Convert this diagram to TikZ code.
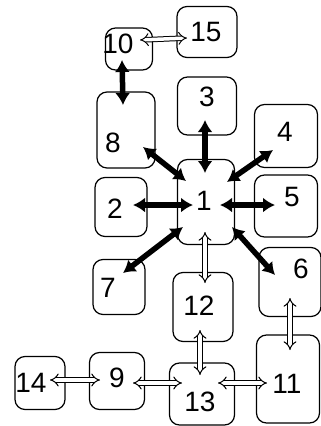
\documentclass[tikz,border=0pt]{standalone}
\usepackage{fontspec}
\setmainfont{Liberation Sans}
\usetikzlibrary{arrows.meta}

\begin{document}
\begin{tikzpicture}[
  x=1pt, y=-1pt,
  box/.style={rectangle, rounded corners=10pt, draw, line width=1.2pt},
  num/.style={font=\fontsize{28}{30}\selectfont, inner sep=0pt},
  thk/.style={{Latex[length=12pt,width=15pt]}-{Latex[length=12pt,width=15pt]}, line width=5.5pt},
  hol/.style={{Implies[length=7pt,width=14pt]}-{Implies[length=7pt,width=14pt]}, double, double distance=3.5pt, line width=1pt},
]
\useasboundingbox (0,0) rectangle (321,426);
% Cajas de arriba
\node[box, minimum width=47pt, minimum height=42pt, label={[num,shift={(-11,-5)}]center:10}] (10) at (129,49) {};
\node[box, minimum width=60pt, minimum height=51pt, label={[num,shift={(-1,0)}]center:15}] (15) at (207,32) {};
\node[box, minimum width=58pt, minimum height=76pt, label={[num,shift={(-13,13)}]center:8}] (8) at (126,130) {};
\node[box, minimum width=59pt, minimum height=58pt, label={[num,shift={(0,-9)}]center:3}] (3) at (207,106) {};
\node[box, minimum width=63pt, minimum height=63pt, label={[num,shift={(-1,-4)}]center:4}] (4) at (286,136) {};
% Centro y lados
\node[box, minimum width=57pt, minimum height=85pt, label={[num,shift={(-2,-1)}]center:1}] (1) at (206,202) {};
\node[box, minimum width=52pt, minimum height=59pt, label={[num,shift={(-6,2)}]center:2}] (2) at (121,207) {};
\node[box, minimum width=63pt, minimum height=62pt, label={[num,shift={(6,-9)}]center:5}] (5) at (286,206) {};
\node[box, minimum width=52pt, minimum height=55pt, label={[num,shift={(-11,1)}]center:7}] (7) at (119,287) {};
\node[box, minimum width=60pt, minimum height=69pt, label={[num,shift={(-4,-1)}]center:12}] (12) at (203,307) {};
\node[box, minimum width=62pt, minimum height=69pt, label={[num,shift={(11,-13)}]center:6}] (6) at (290,282) {};
% Fila de abajo
\node[box, minimum width=63pt, minimum height=88pt, label={[num,shift={(-1,5)}]center:11}] (11) at (288,379) {};
\node[box, minimum width=65pt, minimum height=62pt, label={[num,shift={(-2,8)}]center:13}] (13) at (202,394) {};
\node[box, minimum width=55pt, minimum height=57pt, label={[num,shift={(0,-3)}]center:9}] (9) at (117,381) {};
\node[box, minimum width=50pt, minimum height=53pt, label={[num,shift={(-9,0)}]center:14}] (14) at (40,383) {};
% Flechas gruesas
\draw[thk] ([shift={(-7,11)}]10.center) -- ([shift={(-3,-25)}]8.center);
\draw[thk] ([shift={(-1,-29)}]1.center) -- ([shift={(-2,14)}]3.center);
\draw[thk] ([shift={(-20,-21)}]1.center) -- ([shift={(17,17)}]8.center);
\draw[thk] ([shift={(21,-20)}]1.center) -- ([shift={(-13,14)}]4.center);
\draw[thk] ([shift={(-13,3)}]1.center) -- ([shift={(12,-2)}]2.center);
\draw[thk] ([shift={(14,3)}]1.center) -- ([shift={(-11,-1)}]5.center);
\draw[thk] ([shift={(-23,25)}]1.center) -- ([shift={(4,-14)}]7.center);
\draw[thk] ([shift={(26,25)}]1.center) -- ([shift={(-15,-7)}]6.center);
% Flechas huecas
\draw[hol] ([shift={(11,-9)}]10.center) -- ([shift={(-20,6)}]15.center);
\draw[hol] ([shift={(-1,30)}]1.center) -- ([shift={(2,-24)}]12.center);
\draw[hol] ([shift={(-3,23)}]12.center) -- ([shift={(-2,-19)}]13.center);
\draw[hol] ([shift={(0,16)}]6.center) -- ([shift={(2,-29)}]11.center);
\draw[hol] ([shift={(10,-3)}]14.center) -- ([shift={(-17,-1)}]9.center);
\draw[hol] ([shift={(16,2)}]9.center) -- ([shift={(-20,-11)}]13.center);
\draw[hol] ([shift={(16,-11)}]13.center) -- ([shift={(-21,4)}]11.center);
\end{tikzpicture}
\end{document}
